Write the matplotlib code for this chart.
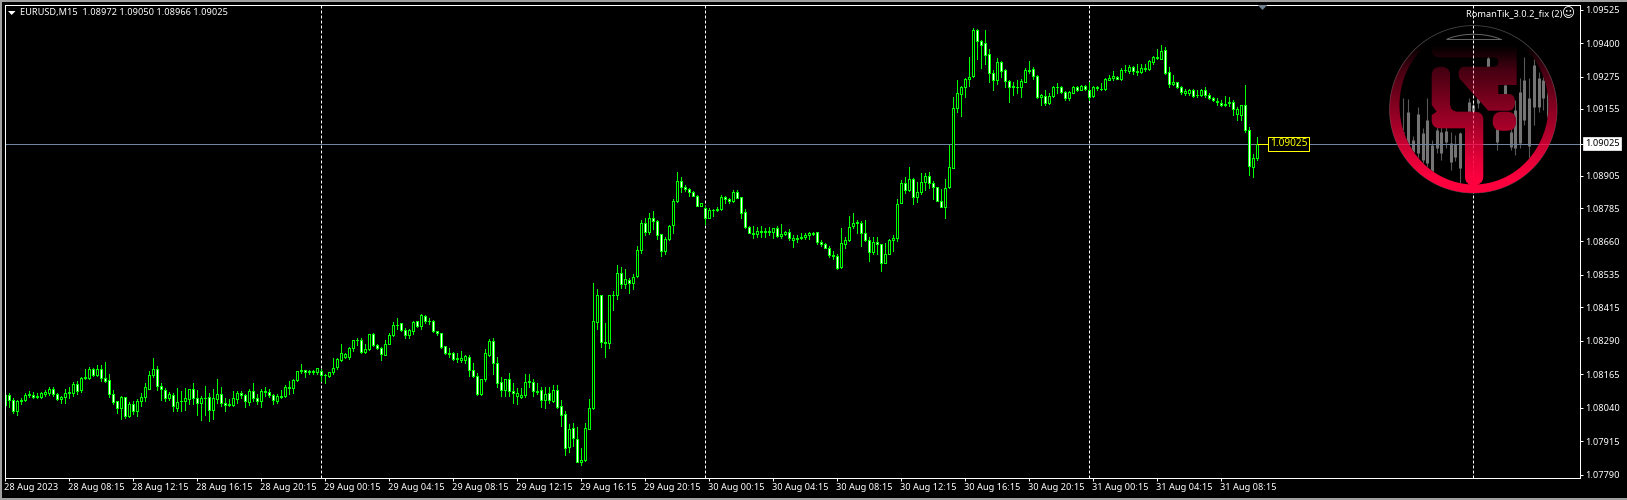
import matplotlib
matplotlib.use('Agg')
import matplotlib.pyplot as plt
from matplotlib.path import Path
from matplotlib.patches import PathPatch, Polygon
from matplotlib.ticker import FixedLocator, FixedFormatter
import numpy as np

# prices are in points above BASE, one point is 0.00001
BASE = 1.07
POINT = 0.00001

opens = [1050,1088,1070,1027,1065,1068,1091,1088,1081,1081,1089,1093,1111,1091,1073,1079,
         1094,1094,1129,1104,1155,1150,1185,1161,1185,1151,1144,1091,1063,1038,1078,1007,
         1054,1027,1064,1080,1111,1160,1185,1121,1106,1074,1088,1039,1066,1064,1072,1108,
         1076,1057,1075,1078,1030,1073,1091,1058,1049,1050,1073,1093,1086,1062,1103,1075,
         1064,1099,1099,1088,1066,1081,1083,1118,1113,1144,1182,1181,1172,1172,1172,1177,
         1162,1157,1172,1190,1217,1228,1228,1261,1292,1293,1246,1258,1313,1273,1263,1238,
         1279,1310,1348,1354,1329,1310,1325,1362,1344,1383,1363,1364,1325,1319,1271,1245,
         1245,1226,1217,1217,1228,1181,1159,1089,1146,1238,1289,1207,1136,1105,1148,1102,
         1084,1079,1087,1136,1136,1103,1107,1068,1095,1064,1107,1047,1017,893,965,924,
         837,844,961,1038,1359,1461,1286,1282,1460,1460,1543,1501,1517,1505,1530,1628,
         1730,1695,1748,1737,1689,1624,1669,1720,1811,1887,1864,1857,1845,1831,1792,1785,
         1747,1778,1776,1781,1827,1818,1811,1845,1827,1771,1715,1692,1688,1696,1700,1700,
         1695,1711,1680,1688,1696,1665,1670,1674,1678,1685,1688,1696,1659,1651,1637,1610,
         1607,1564,1651,1665,1717,1730,1730,1692,1666,1622,1659,1651,1579,1614,1666,1673,
         1804,1879,1852,1894,1827,1844,1882,1905,1879,1863,1811,1790,1863,1934,2160,2209,
         2236,2266,2276,2450,2409,2402,2361,2290,2261,2331,2301,2260,2240,2237,2235,2257,
         2301,2305,2278,2199,2203,2176,2204,2237,2237,2219,2194,2216,2237,2225,2241,2226,
         2203,2237,2231,2229,2262,2270,2275,2266,2300,2297,2312,2295,2292,2303,2305,2329,
         2344,2343,2375,2293,2247,2255,2237,2215,2215,2226,2207,2205,2226,2207,2196,2185,
         2178,2173,2176,2181,2135,2134,2168,2077,1938,1972]

highs = [1104,1095,1075,1070,1075,1095,1103,1100,1094,1100,1106,1116,1115,1096,1085,1108,
         1115,1137,1141,1155,1185,1190,1189,1200,1200,1212,1167,1106,1066,1083,1078,1062,
         1066,1072,1093,1130,1175,1226,1197,1130,1114,1100,1095,1114,1101,1114,1110,1132,
         1104,1083,1119,1093,1108,1145,1118,1076,1073,1101,1101,1103,1091,1111,1130,1091,
         1108,1115,1110,1090,1089,1104,1126,1139,1147,1177,1201,1182,1182,1179,1189,1185,
         1164,1174,1226,1226,1276,1245,1267,1294,1300,1300,1276,1315,1320,1276,1267,1291,
         1320,1360,1373,1357,1338,1332,1363,1365,1388,1384,1373,1366,1325,1319,1271,1263,
         1247,1242,1250,1235,1237,1205,1170,1148,1257,1297,1300,1230,1155,1148,1168,1133,
         1114,1114,1164,1164,1148,1130,1115,1115,1115,1123,1123,1067,1029,977,983,969,
         890,981,1071,1506,1481,1461,1357,1461,1477,1573,1563,1558,1525,1537,1645,1741,
         1746,1767,1772,1740,1689,1678,1722,1817,1920,1902,1872,1859,1849,1834,1804,1792,
         1786,1780,1790,1832,1828,1821,1853,1852,1827,1780,1716,1716,1715,1719,1711,1715,
         1712,1719,1727,1701,1705,1683,1683,1690,1690,1694,1697,1696,1664,1655,1644,1623,
         1615,1712,1675,1757,1768,1742,1735,1739,1678,1678,1675,1651,1656,1670,1683,1817,
         1888,1899,1939,1898,1883,1914,1916,1921,1887,1864,1857,1895,2022,2200,2261,2242,
         2271,2347,2458,2454,2414,2448,2377,2302,2346,2333,2305,2264,2257,2262,2265,2306,
         2332,2312,2281,2209,2224,2215,2241,2250,2240,2221,2221,2239,2241,2244,2244,2257,
         2240,2239,2252,2269,2282,2295,2278,2308,2319,2317,2316,2323,2321,2324,2339,2354,
         2377,2395,2387,2312,2283,2257,2242,2230,2230,2230,2227,2229,2235,2215,2201,2194,
         2190,2204,2199,2190,2163,2171,2246,2088,1985,2050]

lows = [1045,1043,1018,1014,1052,1064,1080,1075,1074,1074,1083,1088,1083,1069,1058,1057,
        1075,1083,1089,1098,1145,1145,1157,1157,1139,1137,1079,1052,1018,996,1002,1003,
        1017,1008,1045,1063,1108,1155,1104,1070,1063,1068,1026,1027,1026,1030,1055,1052,
        1014,993,1014,989,996,1058,1045,1029,1045,1045,1058,1074,1042,1048,1064,1055,
        1042,1083,1080,1055,1058,1076,1080,1089,1093,1139,1170,1153,1164,1167,1166,1139,
        1130,1155,1164,1185,1213,1226,1220,1251,1272,1242,1242,1254,1269,1257,1217,1235,
        1276,1307,1332,1325,1298,1298,1313,1342,1332,1357,1353,1322,1310,1263,1241,1228,
        1217,1212,1210,1207,1157,1154,1087,1087,1139,1232,1164,1118,1083,1085,1085,1058,
        1055,1074,1079,1118,1085,1089,1041,1037,1058,1062,1039,971,863,874,896,837,
        825,839,959,1036,1335,1266,1228,1261,1403,1444,1485,1488,1467,1481,1527,1617,
        1686,1689,1705,1668,1605,1615,1665,1693,1808,1844,1848,1829,1828,1791,1791,1725,
        1746,1755,1772,1777,1802,1803,1809,1822,1746,1712,1690,1673,1678,1676,1676,1683,
        1673,1675,1673,1683,1664,1639,1658,1668,1668,1671,1683,1649,1643,1634,1603,1593,
        1559,1561,1635,1661,1709,1692,1645,1660,1586,1612,1615,1548,1578,1612,1624,1660,
        1802,1842,1848,1799,1807,1839,1852,1858,1817,1811,1788,1746,1860,1933,2143,2130,
        2201,2242,2273,2343,2306,2324,2255,2224,2247,2275,2235,2179,2205,2215,2198,2255,
        2290,2267,2196,2168,2168,2174,2199,2213,2213,2190,2190,2213,2222,2224,2224,2188,
        2200,2226,2224,2226,2261,2262,2265,2263,2292,2290,2286,2281,2290,2295,2302,2321,
        2342,2341,2286,2235,2245,2234,2210,2205,2205,2200,2200,2203,2199,2193,2184,2168,
        2167,2167,2165,2133,2112,2115,2068,1910,1900,1966]

closes = [1088,1068,1027,1065,1070,1088,1086,1081,1085,1096,1099,1111,1089,1073,1080,1096,
          1099,1129,1101,1151,1149,1185,1161,1185,1150,1141,1090,1060,1038,1078,1007,1054,
          1027,1063,1080,1115,1162,1185,1120,1110,1075,1091,1045,1062,1064,1074,1108,1074,
          1057,1074,1076,1030,1076,1091,1057,1049,1054,1074,1093,1086,1064,1103,1074,1064,
          1103,1101,1086,1068,1084,1084,1118,1113,1144,1177,1176,1172,1175,1175,1189,1161,
          1160,1174,1189,1220,1245,1241,1263,1293,1294,1246,1259,1313,1272,1261,1240,1278,
          1312,1349,1350,1329,1310,1328,1360,1344,1384,1363,1365,1325,1317,1267,1243,1240,
          1221,1220,1226,1231,1180,1157,1089,1145,1245,1287,1206,1130,1105,1148,1102,1094,
          1095,1087,1136,1140,1102,1100,1068,1092,1068,1107,1042,1013,890,961,926,837,
          845,965,1039,1364,1461,1284,1282,1461,1462,1543,1502,1520,1505,1528,1629,1730,
          1695,1748,1736,1684,1624,1670,1719,1812,1887,1863,1855,1844,1831,1792,1804,1747,
          1778,1777,1783,1827,1818,1811,1845,1824,1766,1714,1691,1688,1699,1700,1695,1696,
          1710,1681,1689,1696,1674,1674,1674,1676,1686,1690,1693,1659,1650,1637,1610,1607,
          1562,1655,1666,1715,1730,1731,1692,1665,1622,1659,1650,1579,1614,1666,1674,1801,
          1879,1852,1893,1826,1845,1883,1905,1879,1863,1812,1790,1860,1939,2159,2215,2237,
          2267,2275,2450,2408,2395,2358,2288,2262,2331,2298,2259,2236,2236,2235,2260,2302,
          2297,2277,2201,2206,2176,2203,2237,2236,2217,2195,2219,2236,2226,2241,2231,2199,
          2237,2232,2229,2265,2271,2278,2267,2301,2302,2313,2295,2291,2308,2308,2334,2349,
          2349,2372,2288,2247,2256,2237,2217,2220,2226,2203,2205,2226,2206,2195,2189,2181,
          2169,2169,2181,2153,2155,2168,2076,1941,1972,2025]

bid = 1.09025
price_ticks = [1.09525, 1.09400, 1.09275, 1.09155, 1.09025, 1.08905, 1.08785, 1.08660,
               1.08535, 1.08415, 1.08290, 1.08165, 1.08040, 1.07915, 1.07790]
time_labels = ['28 Aug 2023', '28 Aug 08:15', '28 Aug 12:15', '28 Aug 16:15', '28 Aug 20:15',
               '29 Aug 00:15', '29 Aug 04:15', '29 Aug 08:15', '29 Aug 12:15', '29 Aug 16:15',
               '29 Aug 20:15', '30 Aug 00:15', '30 Aug 04:15', '30 Aug 08:15', '30 Aug 12:15',
               '30 Aug 16:15', '30 Aug 20:15', '31 Aug 00:15', '31 Aug 04:15', '31 Aug 08:15']
# bars between labels and the bars where a new day starts
bars_per_label = 16
separators = [79, 175, 271, 367]
header = 'EURUSD,M15  1.08972 1.09050 1.08966 1.09025'

# grey candles behind the logo: x, body top, body bottom, wick top, wick bottom (pixels)
ghosts = [(1403.3, 132, 143, 98, 145), (1408.3, 112, 148, 99, 150), (1413.3, 140, 152, 136, 157),
          (1418, 114, 153, 107, 165), (1422.7, 133, 160, 128, 165), (1427.3, 120, 163, 98, 168),
          (1432, 145, 172, 140, 173), (1436.7, 130, 148, 122, 153), (1441.3, 132, 153, 120, 160),
          (1446, 131, 142, 123, 148), (1450.7, 143, 162, 132, 170), (1455.3, 144, 157, 135, 161),
          (1460, 133, 168, 132, 183), (1468.7, 102, 112, 98, 125), (1473.3, 105, 112, 100, 118),
          (1477.7, 98, 103, 92, 108), (1488, 58, 67, 55, 70), (1496.7, 128, 142, 118, 150),
          (1505.3, 85, 95, 82, 98), (1510.7, 132, 147, 128, 150), (1515, 110, 148, 100, 155),
          (1520, 92, 143, 78, 148), (1524.3, 80, 120, 57, 125), (1529, 98, 146, 78, 160),
          (1534, 65, 107, 48, 125), (1538.7, 78, 107, 72, 112), (1543.3, 80, 98, 72, 110),
          (1548, 88, 118, 88, 120)]

plt.rcParams['font.family'] = ['Noto Sans', 'DejaVu Sans']
LABEL_SIZE = 6.65

opens = BASE + np.array(opens) * POINT
highs = BASE + np.array(highs) * POINT
lows = BASE + np.array(lows) * POINT
closes = BASE + np.array(closes) * POINT
index = np.arange(len(opens))
bull = closes >= opens

fig = plt.figure(figsize=(16.27, 5), dpi=100, facecolor='black')


def pixel_axes(zorder):
    a = fig.add_axes([0, 0, 1, 1], zorder=zorder)
    a.set_xlim(0, 1627)
    a.set_ylim(500, 0)
    a.axis('off')
    return a


def round_rect(x0, y0, x1, y1, r):
    verts = [(x0 + r, y0), (x1 - r, y0), (x1, y0), (x1, y0 + r), (x1, y1 - r), (x1, y1), (x1 - r, y1),
             (x0 + r, y1), (x0, y1), (x0, y1 - r), (x0, y0 + r), (x0, y0), (x0 + r, y0), (x0 + r, y0)]
    codes = [Path.MOVETO, Path.LINETO, Path.CURVE3, Path.CURVE3, Path.LINETO, Path.CURVE3, Path.CURVE3,
             Path.LINETO, Path.CURVE3, Path.CURVE3, Path.LINETO, Path.CURVE3, Path.CURVE3, Path.CLOSEPOLY]
    return Path(verts, codes)


def ellipse(cx, cy, rx, ry, direction=1):
    t = np.linspace(0, 2 * np.pi, 181)[::direction]
    pts = np.column_stack([cx + rx * np.cos(t), cy + ry * np.sin(t)])
    return Path(pts, closed=True)


# logo outline: ring, upper hook, left bar with stem, small blob
ring = Path.make_compound_path(ellipse(1473.3, 109.3, 83.7, 83.7), ellipse(1474, 105.5, 74.5, 79, -1))
upper = Path([(1431.7, 46.7), (1473.3, 28), (1516.7, 46.7), (1516.7, 85), (1498.3, 85), (1498.3, 94),
              (1508.3, 94), (1515, 94), (1515, 101.7), (1515, 110.7), (1508.3, 110.7), (1488.3, 110.7),
              (1459.3, 78.3), (1456.7, 68.3), (1463.3, 66.7), (1493.3, 66.7), (1498.3, 66.7), (1498.3, 62),
              (1498.3, 57.3), (1493.3, 57.3), (1440, 57.3), (1431.7, 57.3), (1431.7, 50), (1431.7, 46.7)],
             [Path.MOVETO, Path.CURVE3, Path.CURVE3, Path.LINETO, Path.LINETO, Path.LINETO,
              Path.LINETO, Path.CURVE3, Path.CURVE3, Path.CURVE3, Path.CURVE3, Path.LINETO,
              Path.LINETO, Path.CURVE3, Path.CURVE3, Path.LINETO, Path.CURVE3, Path.CURVE3,
              Path.CURVE3, Path.CURVE3, Path.LINETO, Path.CURVE3, Path.CURVE3, Path.CLOSEPOLY])
lower = Path([(1431.7, 75), (1431.7, 66.7), (1440.7, 66.7), (1450, 66.7), (1450, 75), (1450, 103.3),
              (1450, 111.7), (1458.3, 111.7), (1475, 111.7), (1483.3, 111.7), (1483.3, 120), (1483.3, 176.7),
              (1483.3, 185), (1473.3, 185), (1465, 185), (1465, 176.7), (1465, 128.3), (1440, 128.3),
              (1431.7, 128.3), (1431.7, 120), (1431.7, 115), (1436.7, 111.7), (1431.7, 105), (1431.7, 75)],
             [Path.MOVETO, Path.CURVE3, Path.CURVE3, Path.CURVE3, Path.CURVE3, Path.LINETO,
              Path.CURVE3, Path.CURVE3, Path.LINETO, Path.CURVE3, Path.CURVE3, Path.LINETO,
              Path.CURVE3, Path.CURVE3, Path.CURVE3, Path.CURVE3, Path.LINETO, Path.LINETO,
              Path.CURVE3, Path.CURVE3, Path.LINETO, Path.LINETO, Path.LINETO, Path.CLOSEPOLY])
blob = round_rect(1492.7, 111.7, 1516, 130.7, 9)
logo = Path.make_compound_path(ring, upper, lower, blob)

# layer under the chart: the grey candles of the logo, hidden where the logo shape is
under = pixel_axes(0)
inner_patch = PathPatch(ellipse(1474, 105.5, 74.5, 79), transform=under.transData, fc='none', ec='none')
under.add_patch(inner_patch)
for gx, top, bottom, hi, lo in ghosts:
    wick = under.vlines(gx, hi, lo, color='#585858', lw=0.8, zorder=1)
    body = under.vlines(gx, top, bottom, color='#747474', lw=2.2, zorder=1)
    wick.set_clip_path(inner_patch)
    body.set_clip_path(inner_patch)
under.add_patch(PathPatch(logo, fc='black', ec='none', zorder=5))

# the chart
ax = fig.add_axes([4.5 / 1627, 22.5 / 500, 1575 / 1627, 473 / 500], zorder=1)
ax.patch.set_visible(False)
ax.set_xlim((4.5 - 5.33) / 4, (1579.5 - 5.33) / 4)
ax.set_ylim(BASE + 779 * POINT, BASE + 2544.7 * POINT)

ax.vlines(separators, ax.get_ylim()[0], ax.get_ylim()[1], color='white', lw=0.72,
          linestyles=[(0, (3, 2))], zorder=1)
ax.axhline(bid, color='#6f84a0', lw=0.72, zorder=1.2)

wicks = ax.vlines(index, lows, highs, color='#00ff00', lw=0.72, zorder=2, antialiased=False)
body_low = np.minimum(opens, closes)
body_height = np.abs(closes - opens)
ax.bar(index[bull], body_height[bull], bottom=body_low[bull], width=0.5, facecolor='black',
       edgecolor='#00ff00', linewidth=0.72, zorder=2.2, antialiased=False)
ax.bar(index[~bull], body_height[~bull], bottom=body_low[~bull], width=0.5, facecolor='white',
       edgecolor='#00ff00', linewidth=0.72, zorder=2.2, antialiased=False)

for spine in ax.spines.values():
    spine.set_color('white')
    spine.set_linewidth(0.72)

ax.yaxis.tick_right()
ax.yaxis.set_major_locator(FixedLocator(price_ticks))
ax.yaxis.set_major_formatter(FixedFormatter(['%.5f' % p for p in price_ticks]))
ax.xaxis.set_major_locator(FixedLocator(np.arange(len(time_labels)) * bars_per_label))
ax.xaxis.set_major_formatter(FixedFormatter(time_labels))
ax.tick_params(axis='y', colors='white', length=2, width=0.72, pad=2.2, labelsize=LABEL_SIZE)
ax.tick_params(axis='x', colors='white', length=2, width=0.72, pad=2.0, labelsize=LABEL_SIZE)
for label in ax.get_xticklabels():
    label.set_ha('left')
    label.set_transform(label.get_transform() + matplotlib.transforms.ScaledTranslation(-1.5 / 100, 0, fig.dpi_scale_trans))

# current price, yellow mark next to the last candle and white box on the scale
ax.hlines(bid, index[-1], 315.7, color='yellow', lw=0.72, zorder=3)
ax.annotate('1.09025', xy=(index[-1], bid), xytext=(12.5, 0), textcoords='offset pixels', color='yellow',
            fontsize=7.3, va='center', ha='left', zorder=4,
            bbox=dict(boxstyle='square,pad=0.14', fc='black', ec='yellow', lw=0.72))
ax.annotate('%.5f' % bid, xy=(1, bid), xycoords=('axes fraction', 'data'), xytext=(5.5, 0),
            textcoords='offset pixels', color='black', fontsize=LABEL_SIZE, va='center', ha='left',
            zorder=4, annotation_clip=False,
            bbox=dict(boxstyle='square,pad=0.2', fc='white', ec='white', lw=0.5))

# layer over the chart: logo colours, header and window frame
over = pixel_axes(2)

# red that fades out towards the top of the logo
rows = np.linspace(20, 200, 181)
gradient = np.zeros((181, 1, 4))
gradient[:, 0, 0] = 1.0
gradient[:, 0, 2] = 0.25
gradient[:, 0, 3] = np.interp(rows, [45, 70, 103, 130, 160, 180], [0, 0.28, 0.5, 0.68, 0.9, 1])
image = over.imshow(gradient, extent=(1380, 1570, 200, 20), aspect='auto', interpolation='bilinear', zorder=2)
over.set_xlim(0, 1627)
over.set_ylim(500, 0)
image.set_clip_path(PathPatch(logo, transform=over.transData))
over.add_patch(PathPatch(ellipse(1473.3, 109.3, 83.7, 83.7), fc='none', ec='#555555', lw=0.6, alpha=0.8, zorder=1))
over.plot([1446.7, 1500.7], [39.3, 39.3], color='#666666', lw=0.7, zorder=3)
t = np.linspace(np.pi * 1.25, np.pi * 1.75, 40)
over.plot(1473.7 + 38 * np.cos(t), 51.3 + 17 * np.sin(t), color='#666666', lw=0.7, zorder=3)

over.text(20, 12.5, header, color='white', fontsize=LABEL_SIZE, va='center', ha='left')
over.add_patch(Polygon([(8, 11), (15.5, 11), (11.7, 15)], fc='white', ec='none'))
over.add_patch(Polygon([(1257.7, 5), (1267.3, 5), (1262.5, 10)], fc='#708090', ec='none'))
over.text(1465.7, 14, 'RomanTik_3.0.2_fix (2)', color='white', fontsize=LABEL_SIZE, va='center', ha='left')
over.text(1568.5, 13.5, '\u263a', color='white', fontsize=9, va='center', ha='center', family='DejaVu Sans')

over.fill_between([0, 1627], 0, 1.7, color='#a0a0a0', lw=0)
over.fill_between([0, 1.7], 0, 500, color='#a0a0a0', lw=0)
over.fill_between([0, 1627], 497.5, 500, color='#a0a0a0', lw=0)

fig.savefig('out.png', dpi=100, facecolor='black')
